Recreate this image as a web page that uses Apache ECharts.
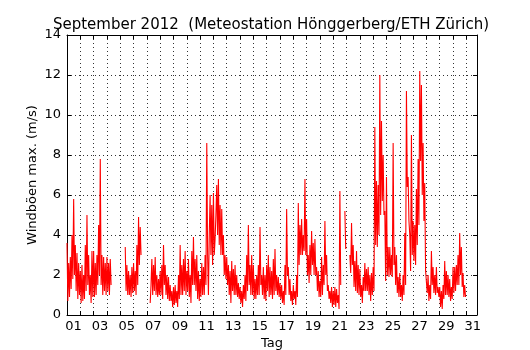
<!DOCTYPE html>
<html><head><meta charset="utf-8">
<script src="https://cdn.jsdelivr.net/npm/echarts@6/dist/echarts.min.js"></script>
<style>html,body{margin:0;padding:0;background:#fff}#c{width:530px;height:350px}</style>
</head><body><div id="c"></div>
<script>
const chartTitle = 'September 2012  (Meteostation Hönggerberg/ETH Zürich)';
const yAxisName = 'Windböen max. (m/s)';
const xAxisName = 'Tag';
const stepHours = 1.5; // readings every 1.5 h starting 1 Sep 00:00 (null = no data)
const dayLabels = ['01','03','05','07','09','11','13','15','17','19','21','23','25','27','29','31'];
const yTickValues = [0,2,4,6,8,10,12,14];

// Windböen max. (m/s), 16 readings per day (one line per day)
const gustSep01to10 = [
  3.6,0.7, 2.6,0.9, 2.9,1.3, 4.0,1.8, 5.8,2.0, 3.5,1.2, 3.1,0.8, 2.6,1.0,
  2.2,0.6, 2.5,0.7, 2.0,0.8, 3.5,1.2, 5.0,1.5, 3.0,1.0, 2.0,0.6, 3.2,0.9,
  3.2,0.9, 2.6,1.0, 3.0,1.5, 4.5,2.0, 7.8,1.5, 3.0,1.0, 2.9,1.2, 2.6,1.0,
  2.9,1.2, 2.6,1.0, 2.8,1.5, null,null, null,null, null,null, null,null, null,null,
  null,null, null,null, null,null, 3.4,1.2, 2.5,1.0, 2.2,1.0, 2.0,0.9, 2.4,1.1,
  2.6,1.2, 2.2,1.0, 3.5,1.5, 4.9,2.5, 4.4,3.0, null,null, null,null, null,null,
  null,null, null,null, 0.6,1.5, 2.8,1.0, 2.5,1.2, 2.9,1.0, 2.0,0.9, 1.8,1.0,
  2.2,1.0, 2.5,0.8, 3.5,1.5, 2.5,1.0, 2.0,0.8, 1.9,0.7, 1.5,0.7, 1.2,0.4,
  1.4,0.5, 1.5,0.6, 1.2,0.4, 2.0,0.8, 3.5,1.0, 2.5,1.0, 2.8,1.2, 3.2,1.0,
  2.2,1.2, 2.8,0.9, 2.0,0.6, 3.2,1.5, 3.9,1.5, 2.8,1.2, 3.0,0.8, 2.2,0.7
];
const gustSep11to20 = [
  1.8,0.9, 2.6,1.0, 2.4,1.0, 3.0,1.5, 8.6,3.0, 1.0,4.0, 6.0,3.0, 5.5,2.5,
  6.1,3.0, 3.8,5.0, 6.5,4.0, 6.8,3.5, 5.5,3.0, 5.3,3.0, 4.0,2.0, 3.0,1.8,
  2.9,1.5, 2.5,1.0, 2.2,0.6, 2.7,1.2, 2.3,1.0, 2.5,1.0, 2.0,0.9, 1.6,0.8,
  1.4,0.6, 1.2,0.4, 1.5,0.8, 2.0,0.7, 3.0,1.2, 4.5,1.5, 2.5,1.0, 3.0,1.0,
  2.5,0.8, 1.8,0.8, 2.0,1.0, 2.5,1.0, 4.4,1.5, 2.0,1.0, 2.4,0.8, 2.0,0.7,
  2.5,1.2, 3.0,0.9, 2.4,1.0, 2.2,0.8, 2.8,1.0, 3.3,1.2, 2.0,1.0, 1.9,0.9,
  1.6,0.8, 1.5,0.6, 1.2,0.5, 2.5,1.0, 5.3,2.0, 2.4,1.0, 1.8,0.7, 1.2,0.5,
  1.5,0.8, 1.2,0.5, 2.0,0.9, 5.6,2.5, 4.5,3.0, 4.8,3.0, 4.0,3.2, 6.8,3.0,
  4.8,2.0, 3.0,1.6, 3.5,2.0, 4.2,2.5, 3.6,2.0, 3.8,2.0, 2.4,1.2, 2.2,0.9,
  1.7,0.9, 2.9,1.0, 2.5,1.5, 4.7,2.0, 3.0,1.2, 1.5,0.8, 1.2,0.6, 1.4,0.4
];
const gustSep21to30 = [
  1.2,0.5, 1.4,0.4, 1.3,0.6, 1.0,0.3, 6.2,1.5, null,null, null,null, 5.2,3.3,
  null,null, null,null, 3.0,2.1, 4.6,2.5, 3.5,1.4, 2.7,1.2, 3.2,1.1, 2.5,1.0,
  2.3,0.9, 1.5,0.6, 1.9,1.2, 2.6,1.2, 2.3,1.2, 2.4,1.0, 2.0,0.7, 2.1,1.0,
  2.4,1.2, 9.4,3.5, 6.7,3.4, 6.5,4.0, 12.0,5.0, 9.7,5.7, 8.0,5.0, 5.2,1.7,
  6.9,2.0, 3.4,1.9, 3.4,2.0, 3.0,1.9, 8.6,2.5, 3.4,1.5, 3.0,1.1, 1.9,0.9,
  2.1,0.9, 1.5,0.7, 2.0,1.0, 4.1,1.5, 11.2,6.4, 6.9,4.7, 4.0,2.2, 9.0,3.0,
  4.7,2.7, 4.5,2.5, 6.3,3.5, 7.8,4.5, 12.2,7.7, 11.5,6.0, 8.6,4.7, 6.6,2.2,
  2.2,1.1, 2.0,0.7, 1.5,0.8, 3.2,1.5, 2.4,1.1, 2.0,1.0, 2.4,1.1, 1.4,0.9,
  1.4,0.4, 1.2,0.3, 1.5,0.8, 2.7,1.0, 2.2,1.0, 2.0,0.9, 1.8,0.7, 1.4,0.8,
  2.4,1.1, 2.4,1.2, 2.5,1.5, 3.0,1.5, 4.1,2.0, 3.4,1.4, 2.1,0.9, 1.5,0.9
];

const gust = [].concat(gustSep01to10, gustSep11to20, gustSep21to30);
const seriesData = gust.map((v, i) => [i * stepHours / 24, v]);

const FONT = 'DejaVu Sans';
const xMax = 30.8;
const dotted = { type: [1, 3], color: '#000', width: 0.8 };

function dayFormatter(v) {
  const d = Math.round(v);
  if (Math.abs(v - d) > 1e-6) return '';
  const lab = String(d + 1).padStart(2, '0');
  return dayLabels.indexOf(lab) >= 0 ? lab : '';
}

const chart = echarts.init(document.getElementById('c'), null, { renderer: 'canvas' });
chart.setOption({
  animation: false,
  backgroundColor: '#fff',
  title: {
    text: chartTitle, left: 266, textAlign: 'center', top: 13,
    textStyle: { fontFamily: FONT, fontSize: 15, fontWeight: 'normal', color: '#000' }
  },
  grid: { left: 67, right: 53, top: 35, bottom: 35, containLabel: false, outerBoundsMode: 'none' },
  xAxis: [{
    type: 'value', min: 0, max: xMax, interval: 1, position: 'bottom',
    axisLine: { show: true, onZero: false, lineStyle: { color: '#000', width: 1 } },
    axisTick: { show: true, inside: true, length: 4, lineStyle: { color: '#000' } },
    axisLabel: { formatter: dayFormatter, margin: 5, padding: [0, 0, 0, 13], fontFamily: FONT, fontSize: 13, color: '#000', showMaxLabel: false },
    splitLine: { show: true, lineStyle: dotted },
    name: xAxisName, nameLocation: 'middle', nameGap: 22, nameMoveOverlap: false,
    nameTextStyle: { fontFamily: FONT, fontSize: 13, color: '#000' }
  }, {
    type: 'value', min: 0, max: xMax, interval: 1, position: 'top',
    axisLine: { show: true, onZero: false, lineStyle: { color: '#000', width: 1 } },
    axisTick: { show: true, inside: true, length: 4, lineStyle: { color: '#000' } },
    axisLabel: { show: false }, splitLine: { show: false }
  }],
  yAxis: [{
    type: 'value', min: yTickValues[0], max: yTickValues[yTickValues.length - 1], interval: 2, position: 'left',
    axisLine: { show: true, onZero: false, lineStyle: { color: '#000', width: 1 } },
    axisTick: { show: true, inside: true, length: 4, lineStyle: { color: '#000' } },
    axisLabel: { margin: 6, fontFamily: FONT, fontSize: 13, color: '#000' },
    splitLine: { show: true, lineStyle: dotted },
    name: yAxisName, nameLocation: 'middle', nameGap: 28, nameRotate: 90, nameMoveOverlap: false,
    nameTextStyle: { fontFamily: FONT, fontSize: 13, color: '#000' }
  }, {
    type: 'value', min: yTickValues[0], max: yTickValues[yTickValues.length - 1], interval: 2, position: 'right',
    axisLine: { show: true, onZero: false, lineStyle: { color: '#000', width: 1 } },
    axisTick: { show: true, inside: true, length: 4, lineStyle: { color: '#000' } },
    axisLabel: { show: false }, splitLine: { show: false }
  }],
  series: [{
    type: 'line', xAxisIndex: 0, yAxisIndex: 0,
    data: seriesData, showSymbol: false, connectNulls: false,
    lineStyle: { color: '#ff0000', width: 1.1 }, itemStyle: { color: '#ff0000' },
    z: 5
  }]
});
</script></body></html>
